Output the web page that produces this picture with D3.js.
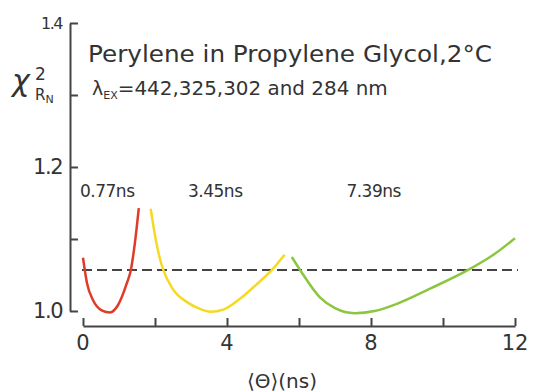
<!DOCTYPE html>
<html lang="en">
<head>
<meta charset="UTF-8">
<title>Perylene chi-square surface</title>
<script src="https://cdn.jsdelivr.net/npm/d3@7/dist/d3.min.js"></script>
<style>
  body{margin:0;background:#fff}
  text{font-family:"DejaVu Sans",sans-serif;fill:#333}
</style>
</head>
<body>
<div class="chart"></div>
<script>
    //data
    let redTheta=[0,0.11,0.28,0.52,0.75,0.97,1.22,1.33,1.44,1.55]
    let redChi=[1.074,1.039,1.015,1.001,0.998,1.008,1.039,1.057,1.094,1.143]
    let yellowTheta=[1.88,2.0,2.1,2.23,2.5,2.9,3.2,3.55,3.9,4.36,4.8,5.25,5.6]
    let yellowChi=[1.142,1.105,1.080,1.057,1.030,1.012,1.004,0.999,1.002,1.017,1.036,1.057,1.078]
    let greenTheta=[5.8,6.03,6.58,7.0,7.55,8.1,8.72,9.64,10.7,11.4,12]
    let greenChi=[1.075,1.057,1.019,1.004,0.997,1.000,1.010,1.031,1.057,1.078,1.101]
    let refChi=1.057
    let xTicks=[0,2,4,6,8,10,12]
    let xLabels=[0,4,8,12]
    let yTicks=[1.0,1.1,1.2,1.3,1.4]
    let yLabels=[1.0,1.2,1.4]
    let fitNames=['0.77ns','3.45ns','7.39ns']
    let fitLabelAt=[0,3.0,7.4]
    let colors=['#e03a28','#f6d923','#8cc63f']

    let svg=d3.select('.chart').append('svg').attr('width',533).attr('height',392)
    let x=d3.scaleLinear().domain([0,12]).range([83,515])
    let y=d3.scaleLinear().domain([1.0,1.4]).range([311,23])
    let ink='#444'

    //axes
    let yAxis=d3.axisRight(y).tickValues(yTicks).tickSizeInner(8).tickSizeOuter(0).tickFormat('')
    svg.append('g').attr('transform','translate(70,0)').call(yAxis)
    let xAxis=d3.axisTop(x).tickValues(xTicks).tickSizeInner(8).tickSizeOuter(0).tickFormat('')
    svg.append('g').attr('transform','translate(0,326)').call(xAxis)
    svg.selectAll('.domain, .tick line').attr('stroke',ink).attr('stroke-width',2)

    svg.selectAll('.ylab').data(yLabels).enter().append('text')
        .attr('x',62).attr('y',d=>y(d)+(d===1.4?6:7))
        .attr('text-anchor','end').attr('font-size',d=>d===1.4?16:21)
        .attr('letter-spacing',-1.5).text(d=>d.toFixed(1))
    svg.selectAll('.xlab').data(xLabels).enter().append('text')
        .attr('x',d=>x(d)).attr('y',350).attr('text-anchor','middle')
        .attr('font-size',21).text(d=>d)

    //reference line
    svg.append('line').attr('x1',82).attr('x2',518).attr('y1',y(refChi)).attr('y2',y(refChi))
        .attr('stroke',ink).attr('stroke-width',2).attr('stroke-dasharray','10,5')

    //curves
    let line=d3.line().x(d=>x(d[0])).y(d=>y(d[1])).curve(d3.curveMonotoneX)
    let series=[[redTheta,redChi],[yellowTheta,yellowChi],[greenTheta,greenChi]]
    series.forEach((s,i)=>{
        svg.append('path').datum(s[0].map((t,j)=>[t,s[1][j]]))
            .attr('d',line).attr('fill','none').attr('stroke',colors[i]).attr('stroke-width',2.5)
    })

    //fit labels
    svg.selectAll('.fit').data(fitNames).enter().append('text')
        .attr('x',(d,i)=>x(fitLabelAt[i])-3).attr('y',197).attr('font-size',17)
        .attr('letter-spacing',-0.5).text(d=>d)

    //title
    svg.append('text').attr('x',88).attr('y',62).attr('font-size',23)
        .attr('textLength',404).attr('lengthAdjust','spacingAndGlyphs')
        .text('Perylene in Propylene Glycol,2°C')
    let sub=svg.append('text').attr('x',92).attr('y',95).attr('font-size',19)
    sub.append('tspan').text('λ')
    sub.append('tspan').attr('font-size',11).attr('dy',4).text('EX')
    sub.append('tspan').attr('dy',-4).attr('textLength',270).attr('lengthAdjust','spacingAndGlyphs')
        .text('=442,325,302 and 284 nm')

    //axis titles
    let yt=svg.append('text').attr('x',12).attr('y',91).attr('font-size',30).attr('font-style','italic')
    yt.append('tspan').text('χ')
    svg.append('text').attr('x',35).attr('y',80).attr('font-size',17).text('2')
    let rn=svg.append('text').attr('x',35).attr('y',100).attr('font-size',15)
    rn.append('tspan').text('R')
    rn.append('tspan').attr('font-size',11).attr('dy',3).text('N')
    svg.append('text').attr('x',282).attr('y',388).attr('text-anchor','middle')
        .attr('font-size',20).text('⟨Θ⟩(ns)')
</script>
</body>
</html>
